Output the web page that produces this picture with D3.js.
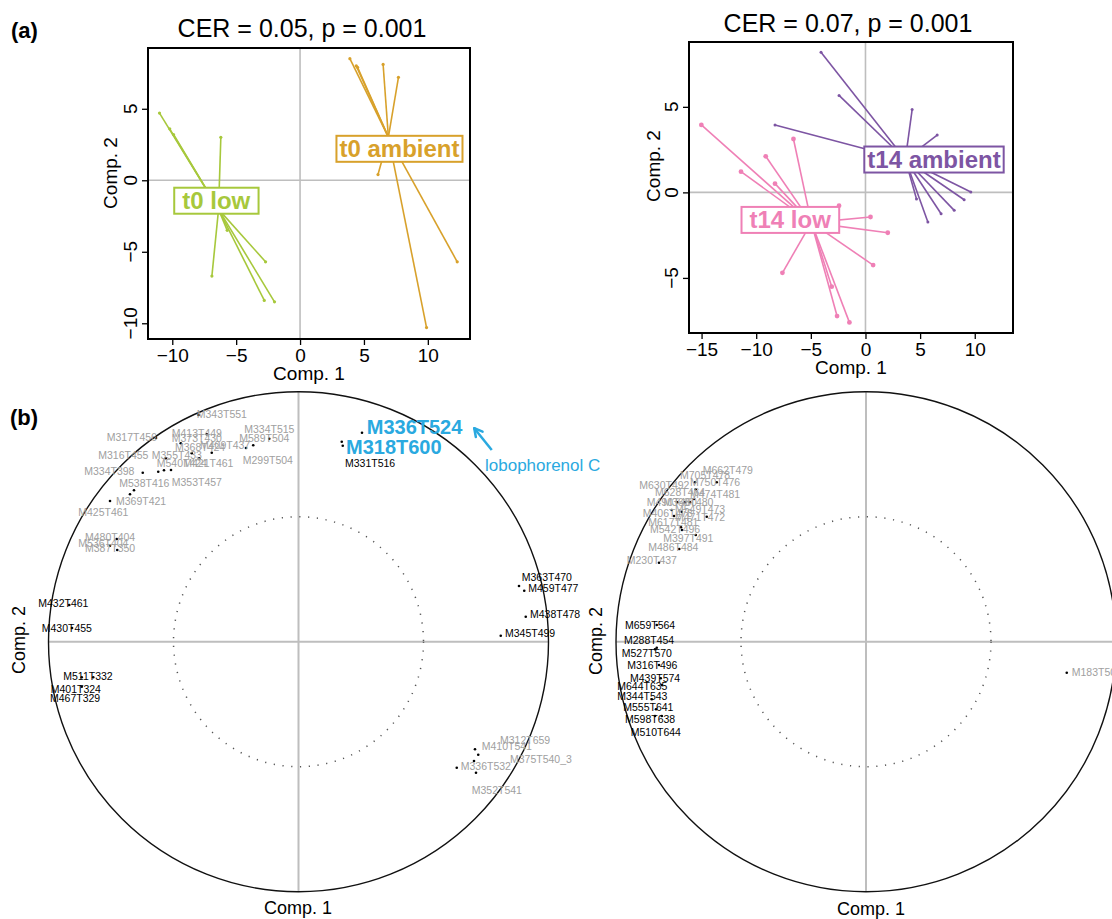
<!DOCTYPE html>
<html><head><meta charset="utf-8">
<script src="https://cdn.jsdelivr.net/npm/d3@7"></script>
<style>body{margin:0;background:#fff;} svg{display:block;font-family:"Liberation Sans",Arial,sans-serif;}</style>
</head><body><svg id="c" width="1112" height="919"></svg>
<script>
// ---------- DATA ----------
// (a) sample scores (Comp. 1, Comp. 2)
const t0Low = [[-11.0,4.7],[-10.2,3.6],[-9.9,3.2],[-6.2,3.0],[-6.9,-6.7],[-2.7,-5.7],[-2.8,-8.4],[-2.0,-8.5],[-5.7,-3.5]];
const t0Ambient = [[3.9,8.5],[4.4,8.0],[4.5,7.9],[6.5,8.1],[7.7,7.2],[6.1,0.4],[12.3,-5.7],[9.9,-10.3]];
const t14Low = [[-15.02,3.94],[-11.39,1.21],[-9.13,2.11],[-8.28,0.51],[-6.59,3.12],[-2.42,-0.78],[0.46,-1.44],[2.04,-2.36],[0.70,-4.25],[-7.60,-4.70],[-3.09,-5.51],[-2.60,-7.23],[-1.47,-7.60]];
const t14Ambient = [[-4.07,8.19],[-2.42,5.67],[-8.28,3.94],[4.27,4.84],[6.56,3.35],[9.64,0.02],[9.03,-0.43],[8.12,-1.05],[6.92,-1.25],[5.71,-1.73],[4.67,-0.39]];
const groupNames = ["t0 low","t0 ambient","t14 low","t14 ambient"];
const groupLabelAt = [[-6.56,-1.43],[7.78,2.2],[-6.89,-1.61],[6.27,1.92]];
const panelTitles = ["CER = 0.05, p = 0.001","CER = 0.07, p = 0.001"];
const xTicksLeft = [-10,-5,0,5,10], yTicksLeft = [-10,-5,0,5];
const xTicksRight = [-15,-10,-5,0,5,10], yTicksRight = [-5,0,5];
const xDomLeft = [-11.9,13.3], yDomLeft = [-11.1,9.25];
const xDomRight = [-16.15,13.5], yDomRight = [-8.22,8.79];

// (b) variable correlations: [name, comp1, comp2, labelComp1, labelComp2]
const leftGray = [
["M343T551",-0.400,0.907,-0.407,0.910],["M317T456",-0.570,0.815,-0.767,0.818],
["M413T449",-0.367,0.830,-0.507,0.836],["M373T430",-0.471,0.794,-0.507,0.814],
["M334T515",-0.117,0.812,-0.217,0.850],["M589T504",-0.181,0.786,-0.237,0.814],
["M299T504",-0.210,0.775,-0.223,0.727],["M368T424",-0.427,0.754,-0.494,0.780],
["M409T437",-0.347,0.756,-0.394,0.787],["M355T433",-0.531,0.734,-0.587,0.747],
["M316T455",-0.561,0.680,-0.801,0.747],["M540T424",-0.538,0.686,-0.567,0.716],
["M421T461",-0.397,0.734,-0.461,0.716],["M334T398",-0.623,0.676,-0.857,0.683],
["M353T457",-0.510,0.687,-0.507,0.640],["M538T416",-0.658,0.606,-0.717,0.634],
["M369T421",-0.674,0.590,-0.730,0.563],["M425T461",-0.754,0.563,-0.881,0.518],
["M480T404",-0.727,0.411,-0.854,0.418],["M536T404",-0.754,0.384,-0.881,0.394],
["M387T350",-0.725,0.367,-0.854,0.374],
["M312T659",0.719,-0.452,0.806,-0.393],["M410T541",0.706,-0.430,0.733,-0.417],
["M375T540_3",0.702,-0.477,0.846,-0.470],["M336T532",0.633,-0.504,0.649,-0.497],
["M352T541",0.710,-0.524,0.693,-0.593]
];
const leftBlack = [
["M331T516",0.173,0.800,0.186,0.716],["M363T470",0.882,0.223,0.893,0.258],
["M459T477",0.903,0.204,0.919,0.213],["M438T478",0.909,0.100,0.926,0.110],
["M345T499",0.809,0.024,0.826,0.034],["M432T461",-0.917,0.147,-1.041,0.154],
["M430T455",-0.906,0.055,-1.027,0.056],["M511T332",-0.821,-0.142,-0.941,-0.136],
["M401T324",-0.867,-0.142,-0.991,-0.189],["M467T329",-0.867,-0.180,-0.994,-0.226]
];
const leftBlue = [["M336T524",0.254,0.836,0.273,0.858],["M318T600",0.177,0.784,0.190,0.780]];
const annotationText = "lobophorenol C";
const annotationAt = [0.746,0.703];
const arrowFrom = [0.773,0.767], arrowTo = [0.703,0.854];
const rightGray = [
["M662T479",-0.597,0.638,-0.653,0.687],["M705T478",-0.684,0.638,-0.744,0.667],
["M750T476",-0.681,0.610,-0.704,0.639],["M630T492",-0.724,0.558,-0.907,0.627],
["M628T464",-0.704,0.558,-0.844,0.600],["M474T481",-0.688,0.571,-0.704,0.590],
["M490T480",-0.755,0.558,-0.877,0.558],["M368T480",-0.737,0.520,-0.811,0.558],
["M549T473",-0.777,0.527,-0.764,0.530],["M406T478",-0.768,0.503,-0.893,0.516],
["M471T472",-0.637,0.500,-0.764,0.500],["M617T481",-0.740,0.458,-0.871,0.480],
["M542T496",-0.736,0.447,-0.864,0.450],["M397T491",-0.681,0.427,-0.811,0.414],
["M486T484",-0.747,0.371,-0.871,0.378],["M230T437",-0.828,0.316,-0.957,0.327],
["M183T508",0.803,-0.124,0.823,-0.120]
];
const rightBlack = [
["M659T564",-0.837,0.067,-0.964,0.067],["M288T454",-0.837,-0.024,-0.968,0.007],
["M527T570",-0.844,-0.030,-0.977,-0.044],["M316T496",-0.828,-0.093,-0.955,-0.093],
["M439T574",-0.821,-0.146,-0.944,-0.144],["M644T635",-0.817,-0.173,-0.995,-0.177],
["M344T543",-0.857,-0.230,-0.995,-0.217],["M555T641",-0.840,-0.270,-0.971,-0.260],
["M598T638",-0.817,-0.297,-0.964,-0.310],["M510T644",-0.844,-0.297,-0.941,-0.362]
];

// ---------- DRAWING ----------
const svg = d3.select("#c");
const colors = ["#a7c83c","#d8a12b","#ef80b6","#7d55a3"];
const GRID = "#bebebe";

svg.append("text").attr("x",11).attr("y",38).attr("font-size",22).attr("font-weight","bold").text("(a)");
svg.append("text").attr("x",10).attr("y",425).attr("font-size",22).attr("font-weight","bold").text("(b)");

function starPanel(p){
  const g = svg.append("g");
  const x = d3.scaleLinear().domain(p.xDom).range([p.x0,p.x1]);
  const y = d3.scaleLinear().domain(p.yDom).range([p.y1,p.y0]);
  g.append("line").attr("x1",x(0)).attr("x2",x(0)).attr("y1",p.y0).attr("y2",p.y1).attr("stroke",GRID).attr("stroke-width",1.6);
  g.append("line").attr("x1",p.x0).attr("x2",p.x1).attr("y1",y(0)).attr("y2",y(0)).attr("stroke",GRID).attr("stroke-width",1.6);
  p.series.forEach((s,i)=>{
    const cx = d3.mean(s.data,d=>d[0]), cy = d3.mean(s.data,d=>d[1]);
    g.selectAll(null).data(s.data).enter().append("line")
      .attr("x1",x(cx)).attr("y1",y(cy)).attr("x2",d=>x(d[0])).attr("y2",d=>y(d[1]))
      .attr("stroke",s.color).attr("stroke-width",1.6);
    g.selectAll(null).data(s.data).enter().append("circle")
      .attr("cx",d=>x(d[0])).attr("cy",d=>y(d[1])).attr("r",s.r).attr("fill",s.color);
  });
  p.series.forEach(s=>{
    const lg = g.append("g");
    const t = lg.append("text").attr("x",x(s.labelAt[0])).attr("y",y(s.labelAt[1]))
      .attr("text-anchor","middle").attr("dominant-baseline","central")
      .attr("font-size",24).attr("font-weight","bold").attr("fill",s.color).text(s.name);
    const bb = t.node().getBBox();
    lg.insert("rect","text").attr("x",bb.x-s.pad).attr("y",bb.y+0.5).attr("width",bb.width+2*s.pad).attr("height",bb.height-1)
      .attr("fill","#fff").attr("stroke",s.color).attr("stroke-width",2);
  });
  // axes
  const ax = g.append("g").attr("transform",`translate(0,${p.y1})`)
    .call(d3.axisBottom(x).tickValues(p.xTicks).tickSize(6).tickPadding(4));
  ax.select(".domain").remove();
  ax.selectAll("text").attr("font-size",19).attr("fill","#000").attr("font-family","Liberation Sans, Arial, sans-serif");
  ax.selectAll("line").attr("stroke","#000").attr("stroke-width",1.3);
  const ay = g.append("g").attr("transform",`translate(${p.x0},0)`)
    .call(d3.axisLeft(y).tickValues(p.yTicks).tickSize(6));
  ay.select(".domain").remove();
  ay.selectAll("line").attr("stroke","#000").attr("stroke-width",1.3);
  ay.selectAll("text").remove();
  g.selectAll(null).data(p.yTicks).enter().append("text")
    .attr("transform",d=>`translate(${p.x0-18},${y(d)}) rotate(-90)`)
    .attr("text-anchor","middle").attr("dominant-baseline","central").attr("font-size",19)
    .text(d=>d3.format("")(d).replace("-","\u2212"));
  g.append("rect").attr("x",p.x0).attr("y",p.y0).attr("width",p.x1-p.x0).attr("height",p.y1-p.y0)
    .attr("fill","none").attr("stroke","#000").attr("stroke-width",2);
  svg.append("text").attr("x",p.titleX).attr("y",p.titleY).attr("text-anchor","middle").attr("font-size",25).text(p.title);
  svg.append("text").attr("x",(p.x0+p.x1)/2).attr("y",p.xlabY).attr("text-anchor","middle").attr("dominant-baseline","central").attr("font-size",19).text("Comp. 1");
  svg.append("text").attr("transform",`translate(${p.ylabX},${p.ylabY}) rotate(-90)`).attr("text-anchor","middle").attr("dominant-baseline","central").attr("font-size",19).text("Comp. 2");
}

starPanel({x0:148,x1:470,y0:48,y1:339,xDom:xDomLeft,yDom:yDomLeft,xTicks:xTicksLeft,yTicks:yTicksLeft,
  title:panelTitles[0],titleX:302,titleY:37,xlabY:373,ylabX:110,ylabY:173,
  series:[{data:t0Low,color:colors[0],r:1.6,name:groupNames[0],labelAt:groupLabelAt[0],pad:8},
          {data:t0Ambient,color:colors[1],r:1.6,name:groupNames[1],labelAt:groupLabelAt[1],pad:3}]});
starPanel({x0:689,x1:1013,y0:42,y1:333,xDom:xDomRight,yDom:yDomRight,xTicks:xTicksRight,yTicks:yTicksRight,
  title:panelTitles[1],titleX:848,titleY:32,xlabY:367,ylabX:653,ylabY:166,
  series:[{data:t14Low,color:colors[2],r:2.4,name:groupNames[2],labelAt:groupLabelAt[2],pad:8},
          {data:t14Ambient,color:colors[3],r:1.5,name:groupNames[3],labelAt:groupLabelAt[3],pad:3}]});

// correlation circles
function corrCircle(cxp, cyp, R, groups, xlab, ylab){
  const g = svg.append("g");
  const x = d3.scaleLinear().domain([-1,1]).range([cxp-R,cxp+R]);
  const y = d3.scaleLinear().domain([-1,1]).range([cyp+R,cyp-R]);
  g.append("line").attr("x1",x(-1)).attr("x2",x(1)).attr("y1",y(0)).attr("y2",y(0)).attr("stroke",GRID).attr("stroke-width",2);
  g.append("line").attr("x1",x(0)).attr("x2",x(0)).attr("y1",y(1)).attr("y2",y(-1)).attr("stroke",GRID).attr("stroke-width",2);
  g.append("circle").attr("cx",x(0)).attr("cy",y(0)).attr("r",x(1)-x(0)).attr("fill","none").attr("stroke","#111").attr("stroke-width",1.4);
  g.append("circle").attr("cx",x(0)).attr("cy",y(0)).attr("r",x(0.5)-x(0)).attr("fill","none").attr("stroke","#555")
    .attr("stroke-width",1.5).attr("stroke-dasharray","1.2 7.6");
  groups.forEach(gr=>{
    g.selectAll(null).data(gr.data).enter().append("circle")
      .attr("cx",d=>x(d[1])).attr("cy",d=>y(d[2])).attr("r",1.3).attr("fill","#000");
  });
  groups.forEach(gr=>{
    g.selectAll(null).data(gr.data).enter().append("text")
      .attr("x",d=>x(d[3])).attr("y",d=>y(d[4])).attr("dominant-baseline","central")
      .attr("font-size",gr.size).attr("font-weight",gr.weight).attr("fill",gr.color).text(d=>d[0]);
  });
  svg.append("text").attr("x",xlab[0]).attr("y",xlab[1]).attr("text-anchor","middle").attr("dominant-baseline","central").attr("font-size",18).text("Comp. 1");
  svg.append("text").attr("transform",`translate(${ylab[0]},${ylab[1]}) rotate(-90)`).attr("text-anchor","middle").attr("dominant-baseline","central").attr("font-size",18).text("Comp. 2");
  return {x,y,g};
}
const L = corrCircle(298.5,641.7,250,[
  {data:leftGray,color:"#a0a0a0",size:10.5,weight:"normal"},
  {data:leftBlack,color:"#000",size:10.5,weight:"normal"},
  {data:leftBlue,color:"#2aa9e0",size:20,weight:"bold"}],[298,908],[19,640]);
corrCircle(866,641.7,250,[
  {data:rightGray,color:"#a0a0a0",size:10.5,weight:"normal"},
  {data:rightBlack,color:"#000",size:10.5,weight:"normal"}],[871,909],[596,641]);

// annotation
L.g.append("text").attr("x",L.x(annotationAt[0])).attr("y",L.y(annotationAt[1])).attr("dominant-baseline","central")
  .attr("font-size",17).attr("fill","#2aa9e0").text(annotationText);
const ax1=L.x(arrowFrom[0]), ay1=L.y(arrowFrom[1]), ax2=L.x(arrowTo[0]), ay2=L.y(arrowTo[1]);
L.g.append("line").attr("x1",ax1).attr("y1",ay1).attr("x2",ax2).attr("y2",ay2).attr("stroke","#2aa9e0").attr("stroke-width",2.5);
const ang = Math.atan2(ay1-ay2, ax1-ax2), hl = 9;
[0.5,-0.5].forEach(da=>{
  L.g.append("line").attr("x1",ax2).attr("y1",ay2)
    .attr("x2",ax2+hl*Math.cos(ang+da)).attr("y2",ay2+hl*Math.sin(ang+da))
    .attr("stroke","#2aa9e0").attr("stroke-width",2.5).attr("stroke-linecap","round");
});
</script></body></html>
